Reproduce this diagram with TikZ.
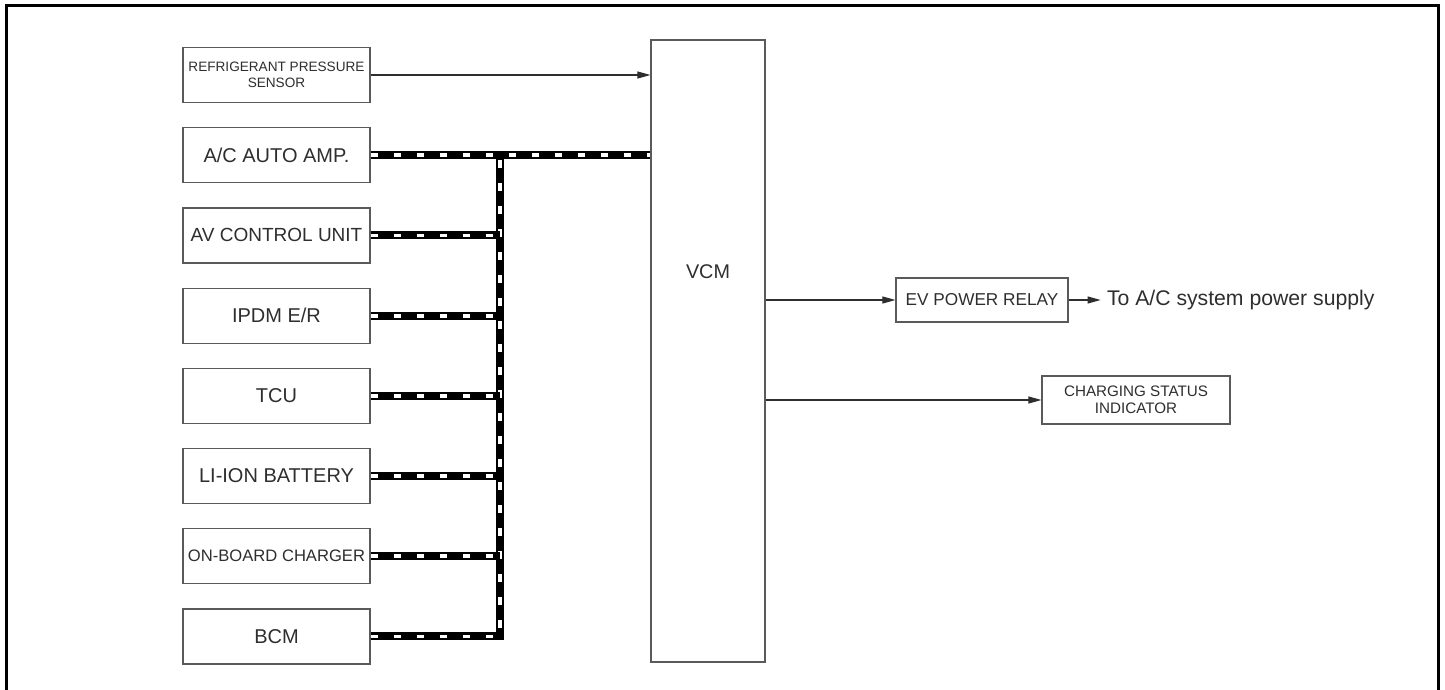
\documentclass[tikz,border=0pt]{standalone}
\usepackage{fontspec}
\setmainfont{Liberation Sans}
\usetikzlibrary{arrows.meta,positioning}
\definecolor{boxline}{HTML}{5A5A5A}
\definecolor{inktext}{HTML}{2E2E2E}
\tikzset{
  unitbox/.style={draw=boxline, line width=0.6pt, fill=white, align=center,
                  text=inktext, minimum width=93.5pt, minimum height=27.5pt,
                  inner sep=1pt, font=\fontsize{10}{11}\selectfont},
  outbox/.style={draw=boxline, line width=0.6pt, fill=white, align=center,
                 text=inktext, inner sep=1pt, font=\fontsize{8.6}{9}\selectfont},
  sig/.style={-{Triangle[length=6.5pt, width=3.5pt]}, line width=0.55pt, color=inktext},
  bus/.style={line width=4pt, black, line cap=butt, line join=miter,
              postaction={draw=white, line width=1.9pt, dash pattern=on 3.8pt off 7.7pt}}}
\begin{document}
\begin{tikzpicture}[x=0.5pt, y=-0.5pt]
  \useasboundingbox (0,0) rectangle (1445,690);
  \draw[line width=1.5pt] (6.5,690) -- (6.5,5.5) -- (1438.5,5.5) -- (1438.5,690);

  \node[unitbox, font=\fontsize{6.8}{7.8}\selectfont] (rps) at (276.5,75) {REFRIGERANT PRESSURE\\SENSOR};
  \node[unitbox, below=12pt of rps] (acamp) {A/C AUTO AMP.};
  \node[unitbox, below=12pt of acamp, font=\fontsize{9.5}{10}\selectfont] (avcu) {AV CONTROL UNIT};
  \node[unitbox, below=12pt of avcu] (ipdm) {IPDM E/R};
  \node[unitbox, below=12pt of ipdm] (tcu) {TCU};
  \node[unitbox, below=12pt of tcu] (liion) {LI-ION BATTERY};
  \node[unitbox, below=12pt of liion, font=\fontsize{8.3}{9}\selectfont] (obc) {ON-BOARD CHARGER};
  \node[unitbox, below=12pt of obc] (bcm) {BCM};

  \node[draw=boxline, line width=0.6pt, minimum width=57pt, minimum height=311pt] (vcm) at (708,351) {};
  \node[text=inktext, font=\fontsize{9.9}{10}\selectfont] (vcmtxt) at (708,272) {VCM};

  \node[outbox, minimum width=86pt, minimum height=22pt] (relay) at (982,300) {EV POWER RELAY};
  \node[right=19pt of relay, anchor=west, inner sep=0pt, text=inktext,
        font=\fontsize{10.6}{11}\selectfont] (acsupply) {To A/C system power supply};
  \node[outbox, minimum width=94pt, minimum height=24pt, font=\fontsize{7.6}{8.4}\selectfont]
    (chgind) at (1136,400) {CHARGING STATUS\\INDICATOR};

  \coordinate (junc) at (500,155);
  \draw[sig] (rps.east) -- (rps.east -| vcm.west);
  \draw[bus] (bcm.east) -| (junc);
  \draw[bus] (acamp.east) -- (acamp.east -| vcm.west);
  \foreach \unit in {avcu,ipdm,tcu,liion,obc}
    \draw[bus] (\unit.east) -- (\unit.east -| junc);

  \draw[sig] (relay.west -| vcm.east) -- (relay.west);
  \draw[sig] (relay.east) -- ([xshift=-3pt]acsupply.west);
  \draw[sig] (chgind.west -| vcm.east) -- (chgind.west);
\end{tikzpicture}
\end{document}
